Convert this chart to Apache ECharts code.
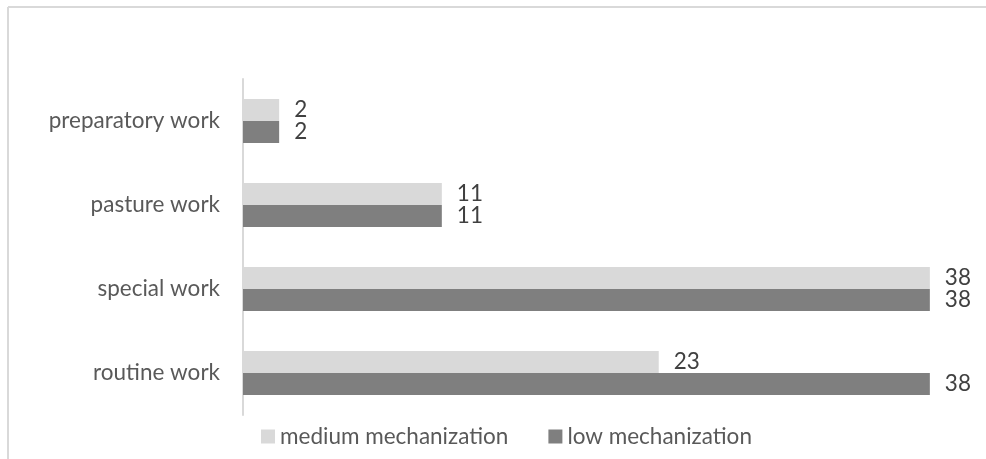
<!DOCTYPE html>
<html>
<head>
<meta charset="utf-8">
<script src="https://cdn.jsdelivr.net/npm/echarts@6/dist/echarts.min.js"></script>
<style>
html,body{margin:0;padding:0;background:#fff;}
#chart{width:986px;height:459px;}
</style>
</head>
<body>
<div id="chart"></div>
<script>
const categories = ['routine work', 'special work', 'pasture work', 'preparatory work'];
const mediumMechanization = [23, 38, 11, 2];
const lowMechanization = [38, 38, 11, 2];
const seriesNames = ['medium mechanization', 'low mechanization'];

const FONT = 'Lato';
const FS = 22.5;
const chart = echarts.init(document.getElementById('chart'));
const labelCfg = {
  show: true,
  position: 'right',
  distance: 15,
  color: '#404040',
  fontFamily: FONT,
  fontSize: FS
};
chart.setOption({
  animation: false,
  backgroundColor: '#ffffff',
  graphic: [
    { type: 'line', shape: { x1: 8, y1: 7, x2: 986, y2: 7 }, style: { stroke: '#d9d9d9', lineWidth: 2 } },
    { type: 'line', shape: { x1: 8, y1: 7, x2: 8, y2: 459 }, style: { stroke: '#d9d9d9', lineWidth: 2 } }
  ],
  grid: { left: 243, right: 20, top: 79, bottom: 44, containLabel: false },
  legend: {
    data: seriesNames,
    left: 256,
    top: 420,
    itemWidth: 14,
    itemHeight: 14,
    itemGap: 40,
    icon: 'rect',
    textStyle: { color: '#595959', fontFamily: FONT, fontSize: FS }
  },
  xAxis: {
    type: 'value',
    min: 0,
    max: 40,
    show: false,
    splitLine: { show: false }
  },
  yAxis: {
    type: 'category',
    data: categories,
    axisLine: { show: true, lineStyle: { color: '#d9d9d9', width: 2 } },
    axisTick: { show: false },
    axisLabel: { color: '#595959', fontFamily: FONT, fontSize: FS, margin: 23 }
  },
  series: [
    {
      name: seriesNames[0],
      type: 'bar',
      data: mediumMechanization,
      barWidth: 22,
      barGap: '0%',
      itemStyle: { color: '#d9d9d9' },
      label: labelCfg
    },
    {
      name: seriesNames[1],
      type: 'bar',
      data: lowMechanization,
      barWidth: 22,
      barGap: '0%',
      itemStyle: { color: '#7f7f7f' },
      label: labelCfg
    }
  ]
});
</script>
</body>
</html>
